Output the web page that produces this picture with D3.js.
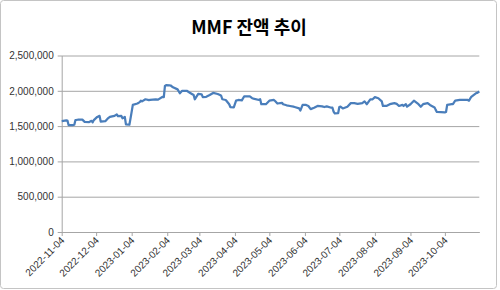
<!DOCTYPE html>
<html>
<head>
<meta charset="utf-8">
<script src="https://cdn.jsdelivr.net/npm/d3@7"></script>
<style>
    body { margin: 0; background: #fff; }
    svg { display: block; }
    .tick text { font-family: "Liberation Sans", Arial, sans-serif; font-size: 10px; fill: #333; }
</style>
</head>
<body>
<div id="chart"></div>
<script>
// MMF balance (business days)
const dates = [
    '2022-11-04', '2022-11-08', '2022-11-09', '2022-11-10', '2022-11-14', '2022-11-15', '2022-11-16', '2022-11-18',
    '2022-11-22', '2022-11-24', '2022-11-28', '2022-11-30', '2022-12-01', '2022-12-02', '2022-12-05', '2022-12-07',
    '2022-12-08', '2022-12-12', '2022-12-14', '2022-12-16', '2022-12-20', '2022-12-22', '2022-12-23', '2022-12-26',
    '2022-12-27', '2022-12-29', '2022-12-30', '2023-01-02', '2023-01-03', '2023-01-05', '2023-01-09', '2023-01-11',
    '2023-01-12', '2023-01-13', '2023-01-16', '2023-01-19', '2023-01-20', '2023-01-25', '2023-01-27', '2023-01-31',
    '2023-02-01', '2023-02-02', '2023-02-03', '2023-02-06', '2023-02-07', '2023-02-09', '2023-02-13', '2023-02-15',
    '2023-02-17', '2023-02-21', '2023-02-24', '2023-02-27', '2023-02-28', '2023-03-03', '2023-03-06', '2023-03-07',
    '2023-03-10', '2023-03-13', '2023-03-16', '2023-03-20', '2023-03-22', '2023-03-23', '2023-03-24', '2023-03-27',
    '2023-03-30', '2023-03-31', '2023-04-03', '2023-04-05', '2023-04-07', '2023-04-10', '2023-04-12', '2023-04-17',
    '2023-04-19', '2023-04-21', '2023-04-25', '2023-04-26', '2023-04-27', '2023-05-01', '2023-05-04', '2023-05-08',
    '2023-05-09', '2023-05-11', '2023-05-15', '2023-05-16', '2023-05-19', '2023-05-22', '2023-05-25', '2023-05-26',
    '2023-05-30', '2023-05-31', '2023-06-02', '2023-06-05', '2023-06-07', '2023-06-09', '2023-06-12', '2023-06-15',
    '2023-06-19', '2023-06-21', '2023-06-23', '2023-06-27', '2023-06-28', '2023-06-29', '2023-06-30', '2023-07-03',
    '2023-07-04', '2023-07-05', '2023-07-07', '2023-07-11', '2023-07-14', '2023-07-17', '2023-07-20', '2023-07-24',
    '2023-07-26', '2023-07-28', '2023-07-31', '2023-08-02', '2023-08-04', '2023-08-07', '2023-08-10', '2023-08-11',
    '2023-08-14', '2023-08-17', '2023-08-21', '2023-08-23', '2023-08-25', '2023-08-28', '2023-08-29', '2023-08-31',
    '2023-09-01', '2023-09-04', '2023-09-07', '2023-09-11', '2023-09-13', '2023-09-15', '2023-09-19', '2023-09-21',
    '2023-09-25', '2023-09-26', '2023-09-27', '2023-10-04', '2023-10-05', '2023-10-06', '2023-10-10', '2023-10-11',
    '2023-10-13', '2023-10-17', '2023-10-20', '2023-10-24', '2023-10-25', '2023-10-27', '2023-10-31', '2023-11-01',
    '2023-11-03'
];
const balances = [
    1572000, 1580000, 1578000, 1515000, 1515000, 1520000, 1585000, 1590000,
    1592000, 1560000, 1558000, 1575000, 1553000, 1585000, 1630000, 1645000,
    1565000, 1570000, 1605000, 1630000, 1645000, 1665000, 1640000, 1645000,
    1610000, 1630000, 1525000, 1520000, 1610000, 1800000, 1820000, 1840000,
    1860000, 1850000, 1880000, 1868000, 1870000, 1880000, 1875000, 1915000,
    1910000, 2070000, 2080000, 2078000, 2075000, 2050000, 2020000, 1965000,
    2000000, 2000000, 1970000, 1940000, 1880000, 1955000, 1950000, 1910000,
    1915000, 1940000, 1970000, 1955000, 1940000, 1930000, 1880000, 1870000,
    1810000, 1770000, 1765000, 1860000, 1870000, 1865000, 1920000, 1920000,
    1895000, 1885000, 1870000, 1880000, 1810000, 1810000, 1860000, 1870000,
    1855000, 1820000, 1830000, 1810000, 1795000, 1785000, 1775000, 1770000,
    1750000, 1720000, 1800000, 1800000, 1785000, 1740000, 1760000, 1785000,
    1780000, 1770000, 1780000, 1760000, 1760000, 1705000, 1680000, 1685000,
    1770000, 1775000, 1750000, 1775000, 1825000, 1825000, 1815000, 1825000,
    1850000, 1810000, 1880000, 1880000, 1910000, 1895000, 1850000, 1785000,
    1785000, 1810000, 1825000, 1815000, 1785000, 1800000, 1785000, 1810000,
    1775000, 1810000, 1860000, 1810000, 1775000, 1810000, 1825000, 1800000,
    1765000, 1730000, 1700000, 1695000, 1700000, 1800000, 1810000, 1812000,
    1860000, 1870000, 1870000, 1870000, 1860000, 1915000, 1965000, 1970000,
    1990000
];
const tickDates = [
    '2022-11-04', '2022-12-04', '2023-01-04', '2023-02-04', '2023-03-04', '2023-04-04',
    '2023-05-04', '2023-06-04', '2023-07-04', '2023-08-04', '2023-09-04', '2023-10-04'
];
const yTicks = [0, 500000, 1000000, 1500000, 2000000, 2500000];
const title = 'MMF 잔액 추이';

const width = 500, height = 290;
const parseDate = d3.timeParse('%Y-%m-%d');
const data = dates.map((d, i) => ({ date: parseDate(d), value: balances[i] }));

const svg = d3.select('#chart').append('svg')
    .attr('width', width)
    .attr('height', height);

// chart border
svg.append('rect')
    .attr('x', 0.5).attr('y', 0.5)
    .attr('width', 496).attr('height', 288)
    .attr('rx', 3)
    .attr('fill', '#fff')
    .attr('stroke', '#c4c4c4');

svg.append('text')
    .attr('x', 249)
    .attr('y', 34)
    .attr('text-anchor', 'middle')
    .style('font-family', '"Noto Sans CJK KR", "Noto Sans", sans-serif')
    .style('font-weight', 'bold')
    .style('font-size', '18px')
    .style('fill', '#000')
    .text(title);

const x = d3.scaleTime()
    .domain([parseDate('2022-11-04'), parseDate('2023-11-03')])
    .range([61.7, 479.3]);

const y = d3.scaleLinear()
    .domain([0, 2500000])
    .range([232, 55.5]);

// y axis with gridlines
const yAxis = svg.append('g')
    .attr('transform', 'translate(61.7,0)')
    .call(d3.axisLeft(y).tickValues(yTicks).tickFormat(d3.format(',')).tickSize(-(479.3 - 61.7)).tickSizeOuter(0))
    .call(g => g.select('.domain').attr('stroke', '#a6a6a6'))
    .call(g => g.selectAll('.tick line').attr('stroke', '#a6a6a6').attr('x1', -4))
    .call(g => g.selectAll('.tick text').attr('x', -8));

// x axis
svg.append('g')
    .attr('transform', 'translate(0,232)')
    .call(d3.axisBottom(x).tickValues(tickDates.map(parseDate)).tickFormat(d3.timeFormat('%Y-%m-%d')).tickSize(4).tickSizeOuter(0))
    .call(g => g.select('.domain').attr('stroke', '#a6a6a6'))
    .call(g => g.selectAll('.tick line').attr('stroke', '#a6a6a6'))
    .call(g => g.selectAll('.tick text')
        .attr('text-anchor', 'end')
        .attr('y', 0).attr('dy', 0)
        .attr('transform', 'translate(3,9) rotate(-45)'));

const line = d3.line()
    .x(d => x(d.date))
    .y(d => y(d.value));

svg.append('path')
    .datum(data)
    .attr('fill', 'none')
    .attr('stroke', '#4a7ebb')
    .attr('stroke-width', 2.25)
    .attr('stroke-linejoin', 'round')
    .attr('d', line);
</script>
</body>
</html>
